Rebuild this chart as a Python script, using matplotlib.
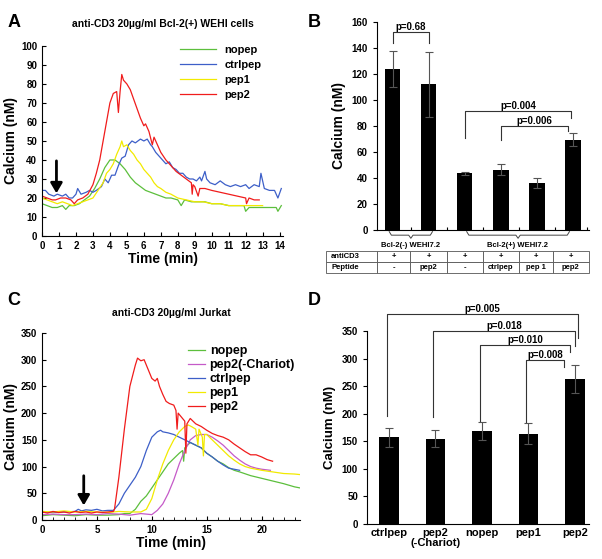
import numpy as np
import matplotlib
matplotlib.use("Agg")
import matplotlib.pyplot as plt
import matplotlib.transforms as mtrans

plt.rcParams['font.family'] = ['Liberation Sans', 'DejaVu Sans']
plt.rcParams['font.weight'] = 'bold'
plt.rcParams['axes.labelweight'] = 'bold'

# ---- panel A: Bcl-2(+) WEHI cells traces ----
a_nopep_t = [0, 0.3, 0.6, 0.9, 1.2, 1.4, 1.6, 1.9, 2.2, 2.5, 2.8, 3.1, 3.4, 3.7, 4.0, 4.3, 4.6, 4.9, 5.2, 5.5,
             5.8, 6.1, 6.4, 6.7, 7.0, 7.3, 7.6, 8.0, 8.2, 8.4, 8.8, 9.2, 9.6, 10, 10.5, 11, 11.5, 11.9, 12.0,
             12.2, 12.6, 13, 13.5, 13.8, 13.9, 14.1]
a_nopep_y = [17, 16, 15, 15, 16, 14, 16, 16, 17, 19, 21, 25, 30, 36, 40, 40, 38, 35, 31, 28,
             26, 24, 23, 22, 21, 20, 20, 19, 16, 19, 18, 18, 18, 17, 17, 16, 16, 16, 13,
             15, 15, 15, 15, 15, 13, 16]

a_ctrl_t = [0, 0.2, 0.4, 0.7, 0.9, 1.2, 1.4, 1.6, 1.8, 2.0, 2.1, 2.3, 2.6, 2.8, 3.0, 3.2, 3.5, 3.7, 3.9, 4.1,
            4.3, 4.5, 4.7, 4.9, 5.1, 5.3, 5.5, 5.8, 6.0, 6.2, 6.4, 6.5, 6.7, 6.9, 7.1, 7.3, 7.5, 7.7, 7.9,
            8.1, 8.3, 8.5, 8.7, 8.9, 9.1, 9.3, 9.4, 9.6, 9.7, 9.9, 10.2, 10.5, 10.8, 11.1, 11.4, 11.7, 12.0,
            12.2, 12.5, 12.8, 12.9, 13.1, 13.4, 13.7, 13.9, 14.1]
a_ctrl_y = [24, 24, 22, 21, 22, 21, 22, 20, 20, 22, 25, 22, 23, 24, 23, 24, 26, 30, 28, 32,
            32, 37, 41, 42, 48, 50, 49, 51, 50, 51, 48, 47, 44, 42, 40, 38, 39, 36, 35,
            33, 33, 31, 30, 30, 29, 31, 29, 34, 30, 28, 27, 29, 27, 26, 27, 26, 27,
            25, 27, 26, 33, 25, 24, 24, 20, 25]

a_pep1_t = [0, 0.3, 0.6, 0.9, 1.2, 1.5, 1.8, 2.1, 2.4, 2.7, 3.0, 3.3, 3.6, 3.8, 4.0, 4.2, 4.4, 4.6, 4.7, 4.8,
            5.0, 5.2, 5.4, 5.6, 5.8, 6.0, 6.2, 6.4, 6.6, 6.8, 7.0, 7.3, 7.6, 8.0, 8.5, 9.0, 9.5, 10.0, 10.5,
            11, 11.5, 12, 12.5, 13]
a_pep1_y = [20, 19, 18, 17, 18, 17, 16, 17, 18, 19, 20, 24, 28, 33, 35, 38, 43, 47, 50, 47,
            48, 45, 43, 40, 38, 35, 33, 31, 28, 26, 25, 23, 22, 20, 19, 18, 18, 17, 17,
            16, 16, 16, 16, 16]

a_pep2_t = [0, 0.3, 0.6, 0.8, 1.1, 1.4, 1.7, 1.9, 2.1, 2.4, 2.7, 3.0, 3.2, 3.4, 3.6, 3.8, 4.0, 4.2, 4.4, 4.5,
            4.6, 4.7, 4.8, 5.0, 5.2, 5.4, 5.6, 5.8, 6.0, 6.1, 6.3, 6.5, 6.6, 6.8, 7.0, 7.3, 7.6, 7.9, 8.2,
            8.5, 8.8, 8.85, 8.9, 9.0, 9.2, 9.3, 9.6, 10.0, 10.5, 11, 11.5, 12.0, 12.05, 12.2, 12.5, 12.8]
a_pep2_y = [21, 20, 19, 19, 20, 20, 19, 17, 19, 20, 22, 27, 33, 40, 50, 60, 70, 75, 76, 65,
            76, 85, 82, 80, 77, 72, 67, 62, 58, 59, 55, 48, 52, 48, 44, 40, 37, 34, 32,
            30, 28, 22, 27, 26, 21, 25, 25, 24, 23, 22, 21, 20, 17, 20, 19, 19]

# ---- panel B: bar means ----
b_means = [124, 112, 43.5, 46.5, 36, 69.5]
b_errs = [14, 25, 1, 4, 4, 5]
b_anti = ['+', '+', '+', '+', '+', '+']
b_pep = ['-', 'pep2', '-', 'ctrlpep', 'pep 1', 'pep2']

# ---- panel C: Jurkat traces ----
c_nopep_t = [0, 1, 2, 3, 4, 5, 6, 7, 7.5, 8, 8.5, 9, 9.5, 10, 10.5, 11, 11.5, 12, 12.5, 12.8, 12.9, 13,
             13.5, 14, 14.5, 15, 15.5, 16, 16.5, 17, 17.5, 18, 19, 20, 21, 22, 23, 23.5]
c_nopep_y = [8, 10, 9, 8, 10, 9, 9, 10, 12, 12, 20, 35, 45, 60, 75, 90, 105, 115, 125, 130, 110, 135,
             145, 140, 135, 125, 118, 110, 105, 98, 93, 90, 83, 78, 73, 68, 62, 60]

c_noch_t = [0, 1, 2, 3, 4, 5, 6, 7, 8, 9, 10, 10.5, 11, 11.5, 12, 12.5, 13, 13.5, 14, 14.5, 15, 15.5, 16,
            16.5, 17, 17.5, 18, 18.5, 19, 19.5, 20, 20.8]
c_noch_y = [10, 11, 10, 10, 11, 10, 12, 11, 9, 12, 10, 18, 30, 50, 75, 105, 130, 150, 158, 160, 160, 155, 148,
            140, 130, 120, 112, 105, 100, 97, 95, 93]

c_ctrl_t = [0, 1, 2, 3, 3.3, 3.6, 4, 4.5, 5, 5.5, 6, 6.5, 7.0, 7.5, 8, 8.5, 9, 9.5, 10, 10.5, 10.8, 11, 11.5,
            12, 12.5, 13, 13.5, 14, 14.5, 15, 15.5, 16, 16.5, 17, 17.5, 18]
c_ctrl_y = [15, 14, 15, 16, 20, 17, 19, 18, 20, 17, 18, 18, 30, 50, 65, 80, 100, 130, 155, 165, 168, 165, 163,
            160, 155, 150, 145, 140, 135, 125, 118, 110, 103, 97, 95, 93]

c_pep1_t = [0, 1, 2, 3, 4, 5, 6, 7, 8, 9, 9.5, 10, 10.5, 11, 11.5, 12, 12.5, 13, 13.3, 13.6, 14, 14.2, 14.3,
            14.6, 14.7, 14.8, 15, 15.5, 16, 16.5, 17, 17.5, 18, 18.5, 19, 20, 21, 22, 23, 23.5]
c_pep1_y = [16, 15, 17, 15, 16, 15, 14, 16, 15, 15, 20, 40, 75, 105, 130, 150, 165, 175, 178, 175, 170, 140, 170,
            155, 120, 160, 160, 150, 140, 130, 120, 112, 105, 100, 97, 93, 90, 87, 86, 85]

c_pep2_t = [0, 0.5, 1, 1.5, 2, 2.5, 3, 3.5, 4, 4.5, 5, 5.5, 6, 6.5, 6.6, 7.0, 7.5, 8.0, 8.5, 8.7, 9.0, 9.3,
            9.5, 9.8, 10.0, 10.3, 10.5, 10.7, 11, 11.3, 11.6, 12, 12.2, 12.3, 12.4, 12.8, 13.0, 13.1, 13.2,
            13.5, 14, 14.5, 15, 15.5, 16, 16.5, 17, 17.5, 18, 18.5, 19, 19.5, 20, 20.5, 21]
c_pep2_y = [15, 13, 16, 14, 15, 13, 16, 14, 15, 13, 15, 14, 15, 16, 20, 80, 170, 250, 290, 303, 298, 300,
            290, 275, 265, 260, 265, 250, 235, 222, 218, 215, 205, 170, 200, 190, 185, 125, 180,
            190, 180, 175, 168, 162, 158, 155, 150, 142, 135, 128, 122, 122, 118, 113, 110]

# ---- panel D: bar means ----
d_labels = ['ctrlpep', 'pep2\n(-Chariot)', 'nopep', 'pep1', 'pep2']
d_means = [157, 155, 169, 164, 263]
d_errs = [17, 15, 16, 19, 25]

green = '#5cbf3c'
blue = '#3d5fc8'
yellow = '#f2ea00'
red = '#f01c1c'
magenta = '#c55ac8'

fig = plt.figure(figsize=(6.02, 5.59), dpi=100)

# ================= A =================
axA = fig.add_axes([0.0698, 0.5778, 0.4003, 0.340])
axA.plot(a_nopep_t, a_nopep_y, color=green, lw=0.9, label='nopep')
axA.plot(a_ctrl_t, a_ctrl_y, color=blue, lw=0.9, label='ctrlpep')
axA.plot(a_pep1_t, a_pep1_y, color=yellow, lw=0.9, label='pep1')
axA.plot(a_pep2_t, a_pep2_y, color=red, lw=0.9, label='pep2')
axA.set_xlim(0, 14.2)
axA.set_ylim(0, 100)
axA.set_xticks(range(0, 15))
axA.set_yticks(range(0, 101, 10))
axA.tick_params(direction='in', labelsize=7, length=3)
axA.set_xlabel('Time (min)', fontsize=10, labelpad=1)
axA.set_ylabel('Calcium (nM)', fontsize=10, labelpad=2)
axA.set_title('anti-CD3 20µg/ml Bcl-2(+) WEHI cells', fontsize=7.5, fontweight='bold', pad=14)
for s in ['top', 'right']:
    axA.spines[s].set_visible(False)
axA.legend(loc='upper right', frameon=False, fontsize=8, handlelength=3.2, labelspacing=0.45,
           borderaxespad=0.0, bbox_to_anchor=(0.93, 1.03))
axA.annotate('', xy=(0.85, 21), xytext=(0.85, 41),
             arrowprops=dict(arrowstyle='-|>,head_width=0.35,head_length=0.6', color='black', lw=2))

# ================= B =================
axB = fig.add_axes([0.6262, 0.5886, 0.352, 0.372])
xb = np.arange(1, 7)
axB.bar(xb, b_means, width=0.42, color='black', yerr=b_errs, capsize=3,
        error_kw=dict(ecolor='#555555', elinewidth=0.8, capthick=0.8))
axB.set_xlim(0.56, 6.44)
axB.set_ylim(0, 160)
axB.set_yticks(range(0, 161, 20))
axB.set_xticks([1.5, 2.5, 3.5, 4.5, 5.5, 6.4])
axB.set_xticklabels([])
axB.tick_params(axis='y', labelsize=7, length=3)
axB.tick_params(axis='x', direction='in', length=2)
axB.set_ylabel('Calcium (nM)', fontsize=10, labelpad=4)
for s in ['top', 'right']:
    axB.spines[s].set_visible(False)


def bracket(ax, x1, x2, y, y1, y2, text, fs):
    ax.plot([x1, x1, x2, x2], [y1, y, y, y2], color='#333333', lw=0.8, clip_on=False)
    ax.text((x1 + x2) / 2, y, text, ha='center', va='bottom', fontsize=fs, fontweight='bold')


bracket(axB, 1.0, 2.0, 152, 144, 144, 'p=0.68', 7)
bracket(axB, 3.0, 5.95, 91.5, 71, 86, 'p=0.004', 7)
bracket(axB, 4.0, 5.85, 80, 69, 76, 'p=0.006', 7)

# braces under the groups
trB = mtrans.blended_transform_factory(axB.transData, axB.transAxes)


def brace(ax, x0, x1, tr):
    xm = (x0 + x1) / 2
    d = 0.06
    xs = [x0, x0 + d, xm - d, xm, xm + d, x1 - d, x1]
    ys = [-0.008, -0.025, -0.025, -0.04, -0.025, -0.025, -0.008]
    ax.plot(xs, ys, color='#444444', lw=0.7, transform=tr, clip_on=False)


brace(axB, 0.9, 2.1, trB)
brace(axB, 3.05, 5.9, trB)
axB.text(1.5, -0.06, 'Bcl-2(-) WEHI7.2', transform=trB, ha='center', va='top', fontsize=5.5)
axB.text(4.45, -0.06, 'Bcl-2(+) WEHI7.2', transform=trB, ha='center', va='top', fontsize=5.5)

cells = [['antiCD3'] + b_anti, ['Peptide'] + b_pep]
tab = axB.table(cellText=cells, cellLoc='center', bbox=[-0.24, -0.207, 1.24, 0.106],
                colWidths=[51, 33, 37, 36, 36, 34, 36])
tab.auto_set_font_size(False)
tab.set_fontsize(5.5)
for (r, c), cell in tab.get_celld().items():
    cell.set_linewidth(0.6)
    cell.set_edgecolor('#555555')
    cell.get_text().set_fontweight('bold')
    if c == 0:
        cell.get_text().set_ha('left')
        cell._loc = 'left'

# ================= C =================
axC = fig.add_axes([0.0698, 0.0698, 0.4286, 0.3345])
axC.plot(c_nopep_t, c_nopep_y, color=green, lw=0.9, label='nopep')
axC.plot(c_noch_t, c_noch_y, color=magenta, lw=0.9, label='pep2(-Chariot)')
axC.plot(c_ctrl_t, c_ctrl_y, color=blue, lw=0.9, label='ctrlpep')
axC.plot(c_pep1_t, c_pep1_y, color=yellow, lw=0.9, label='pep1')
axC.plot(c_pep2_t, c_pep2_y, color=red, lw=0.9, label='pep2')
axC.set_xlim(0, 23.5)
axC.set_ylim(0, 350)
axC.set_xticks([0, 5, 10, 15, 20])
axC.set_xticks(range(0, 24), minor=True)
axC.set_yticks(range(0, 351, 50))
axC.tick_params(direction='in', labelsize=7, length=3)
axC.tick_params(which='minor', direction='in', length=2)
axC.set_xlabel('Time (min)', fontsize=10, labelpad=1)
axC.set_ylabel('Calcium (nM)', fontsize=10, labelpad=2)
axC.set_title('anti-CD3 20µg/ml Jurkat', fontsize=7.5, fontweight='bold', pad=12)
for s in ['top', 'right']:
    axC.spines[s].set_visible(False)
axC.legend(loc='upper right', frameon=False, fontsize=9, handlelength=1.3, handletextpad=0.4,
           labelspacing=0.15, borderaxespad=0.0, bbox_to_anchor=(1.0, 0.96))
axC.annotate('', xy=(3.8, 22), xytext=(3.8, 88),
             arrowprops=dict(arrowstyle='-|>,head_width=0.35,head_length=0.6', color='black', lw=2))

# ================= D =================
axD = fig.add_axes([0.6096, 0.0626, 0.3688, 0.3453])
xd = np.arange(1, 6)
axD.bar(xd, d_means, width=0.42, color='black', yerr=d_errs, capsize=3,
        error_kw=dict(ecolor='#555555', elinewidth=0.8, capthick=0.8))
axD.set_xlim(0.53, 5.3)
axD.set_ylim(0, 350)
axD.set_yticks(range(0, 351, 50))
axD.set_xticks(xd)
axD.set_xticklabels(d_labels, fontsize=8, linespacing=0.95)
axD.tick_params(axis='y', labelsize=7, length=3)
axD.tick_params(axis='x', length=0, pad=3)
axD.set_ylabel('Calcium (nM)', fontsize=9.5, labelpad=4)
for s in ['top', 'right']:
    axD.spines[s].set_visible(False)
bracket(axD, 0.95, 5.07, 380, 196, 337, 'p=0.005', 7)
bracket(axD, 1.95, 5.0, 350, 194, 322, 'p=0.018', 7)
bracket(axD, 2.95, 4.9, 325, 187, 312, 'p=0.010', 7)
bracket(axD, 3.95, 4.76, 297, 185, 285, 'p=0.008', 7)

# panel letters
for lab, x, y in [('A', 0.012, 0.975), ('B', 0.512, 0.975), ('C', 0.012, 0.478), ('D', 0.512, 0.478)]:
    fig.text(x, y, lab, fontsize=13, fontweight='bold', va='top')

fig.savefig('out.png', dpi=100)
